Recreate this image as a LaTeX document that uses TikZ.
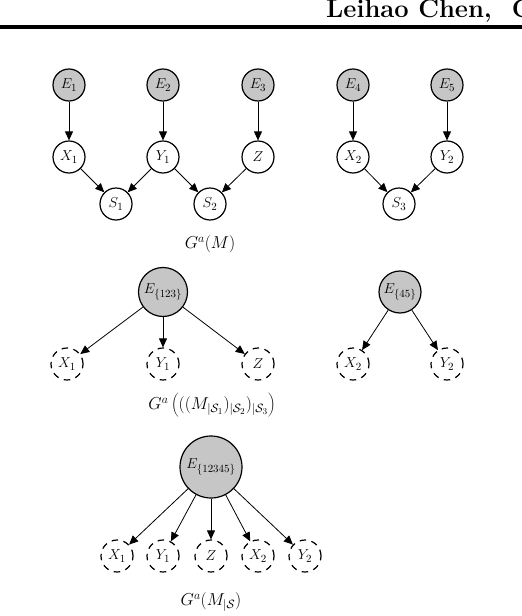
\documentclass[tikz,border=0pt]{standalone}
\usetikzlibrary{arrows.meta}
\begin{document}
\begin{tikzpicture}[x=1pt,y=-1pt,
  every node/.style={font=\fontsize{15.5}{18}\selectfont},
  var/.style={circle,draw,line width=1.2pt,minimum size=32pt,inner sep=0pt},
  env/.style={var,fill=gray!45},
  hid/.style={var,dashed,dash pattern=on 6.5pt off 5.5pt},
  captxt/.style={font=\fontsize{18}{20}\selectfont},
  arr/.style={-{Triangle[length=9pt,width=8pt]},line width=0.8pt}]
\useasboundingbox (0,0) rectangle (522,616);
% header
\node[anchor=base west,inner sep=0pt,font=\fontsize{25.5}{28}\bfseries] (head) at (326,17) {Leihao Chen,\hspace{20pt}C};
\draw[line width=3.5pt] (0,27) -- (522,27);
% top left
\node[env] (E1) at (69,85) {$E_1$};
\node[env] (E2) at (163,85) {$E_2$};
\node[env] (E3) at (258,85) {$E_3$};
\node[var] (X1) at (69,157) {$X_1$};
\node[var] (Y1) at (163,157) {$Y_1$};
\node[var] (Z) at (258,157) {$Z$};
\node[var] (S1) at (116,204) {$S_1$};
\node[var] (S2) at (210,204) {$S_2$};
\draw[arr] (E1) -- (X1);
\draw[arr] (E2) -- (Y1);
\draw[arr] (E3) -- (Z);
\draw[arr] (X1) -- (S1);
\draw[arr] (Y1) -- (S1);
\draw[arr] (Y1) -- (S2);
\draw[arr] (Z) -- (S2);
\node[captxt] (c1) at (210,244) {$G^a(M)$};
% top right
\node[env] (E4) at (353,85) {$E_4$};
\node[env] (E5) at (447,85) {$E_5$};
\node[var] (X2) at (353,157) {$X_2$};
\node[var] (Y2) at (447,157) {$Y_2$};
\node[var] (S3) at (399,204) {$S_3$};
\draw[arr] (E4) -- (X2);
\draw[arr] (E5) -- (Y2);
\draw[arr] (X2) -- (S3);
\draw[arr] (Y2) -- (S3);
% middle left
\node[env,minimum size=49pt] (E123) at (163,292) {$E_{\{123\}}$};
\node[hid] (hX1) at (67,364) {$X_1$};
\node[hid] (hY1) at (163,364) {$Y_1$};
\node[hid] (hZ) at (258,364) {$Z$};
\draw[arr] (E123) -- (hX1);
\draw[arr] (E123) -- (hY1);
\draw[arr] (E123) -- (hZ);
\node[captxt] (c2) at (212,405) {$G^a\left(((M_{|\mathcal{S}_1})_{|\mathcal{S}_2})_{|\mathcal{S}_3}\right)$};
% middle right
\node[env,minimum size=42pt] (E45) at (400,292) {$E_{\{45\}}$};
\node[hid] (hX2) at (353,364) {$X_2$};
\node[hid] (hY2) at (447,364) {$Y_2$};
\draw[arr] (E45) -- (hX2);
\draw[arr] (E45) -- (hY2);
% bottom
\node[env,minimum size=62pt] (Eall) at (211,467) {$E_{\{12345\}}$};
\node[hid] (bX1) at (117,556) {$X_1$};
\node[hid] (bY1) at (163,556) {$Y_1$};
\node[hid] (bZ) at (211,556) {$Z$};
\node[hid] (bX2) at (258,556) {$X_2$};
\node[hid] (bY2) at (305,556) {$Y_2$};
\foreach \t in {bX1,bY1,bZ,bX2,bY2} \draw[arr] (Eall) -- (\t);
\node[captxt] (c3) at (211,602) {$G^a(M_{|\mathcal{S}})$};
\end{tikzpicture}
\end{document}
